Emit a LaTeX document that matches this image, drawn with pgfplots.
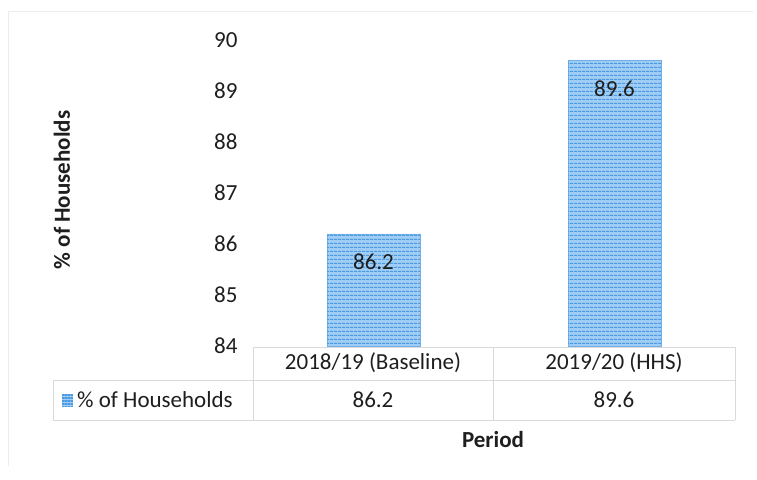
\documentclass[border=0pt]{standalone}
\usepackage{pgfplots}
\pgfplotsset{compat=1.18}
\usepackage{fontspec}
\setmainfont{Carlito}
\usetikzlibrary{patterns.meta}
\definecolor{barfill}{HTML}{9FCDF5}
\definecolor{barline}{HTML}{4C9BE2}
\definecolor{gridc}{HTML}{D9D9D9}
\definecolor{txt}{HTML}{1E1E1E}
\begin{document}
\begin{tikzpicture}[font=\fontsize{23}{27}\selectfont, x=1pt, y=1pt, text=txt]
\useasboundingbox (-253,-133) rectangle (504,346);
\begin{axis}[at={(0,0)}, anchor=south west, scale only axis,
  width=482pt, height=306pt,
  xmin=-0.5, xmax=1.5, ymin=84, ymax=90,
  ytick={84,85,86,87,88,89,90}, xtick=\empty,
  axis line style={draw=none}, major tick length=0pt,
  /pgf/number format/assume math mode=true,
  yticklabel style={anchor=east, xshift=-12pt, text=txt},
  clip=false]
\addplot[ybar, bar width=93pt, bar shift=0pt, fill=barfill, draw=barline!80, line width=0.6pt]
  coordinates {(0,86.2) (1,89.6)};
\addplot[ybar, bar width=93pt, bar shift=0pt, draw=none,
  pattern={Lines[angle=0,distance=4pt,line width=1.4pt]}, pattern color=barline,
  nodes near coords,
  every node near coord/.append style={anchor=center, yshift=-28pt, text=txt, fill=none},
  /pgf/number format/.cd, fixed, precision=1]
  coordinates {(0,86.2) (1,89.6)};
\end{axis}
% chart frame (faint)
\draw[gray!15, line width=0.8pt] (-245,-120) -- (-245,335) -- (500,335);
% data table
\draw[gridc, line width=0.8pt] (0,-1) -- (482,-1);
\draw[gridc, line width=0.8pt] (-200,-34) -- (482,-34);
\draw[gridc, line width=0.8pt] (-200,-74) -- (482,-74);
\draw[gridc, line width=0.8pt] (0,-1) -- (0,-74);
\draw[gridc, line width=0.8pt] (240,-1) -- (240,-74);
\draw[gridc, line width=0.8pt] (482,-1) -- (482,-74);
\draw[gridc, line width=0.8pt] (-200,-34) -- (-200,-74);
\node at (120,-17) {2018/19 (Baseline)};
\node at (361,-17) {2019/20 (HHS)};
\node at (120,-54) {86.2};
\node at (361,-54) {89.6};
\fill[barfill] (-191,-48) rectangle (-180,-60);
\fill[pattern={Lines[angle=0,distance=3pt,line width=1.2pt]}, pattern color=barline] (-191,-48) rectangle (-180,-60);
\node[anchor=west, inner sep=0pt] at (-176,-54) {\% of Households};
\node[font=\fontsize{23}{27}\selectfont\bfseries] at (240,-94) {Period};
\node[font=\fontsize{23}{27}\selectfont\bfseries, rotate=90] at (-191,156) {\% of Households};
\end{tikzpicture}
\end{document}
